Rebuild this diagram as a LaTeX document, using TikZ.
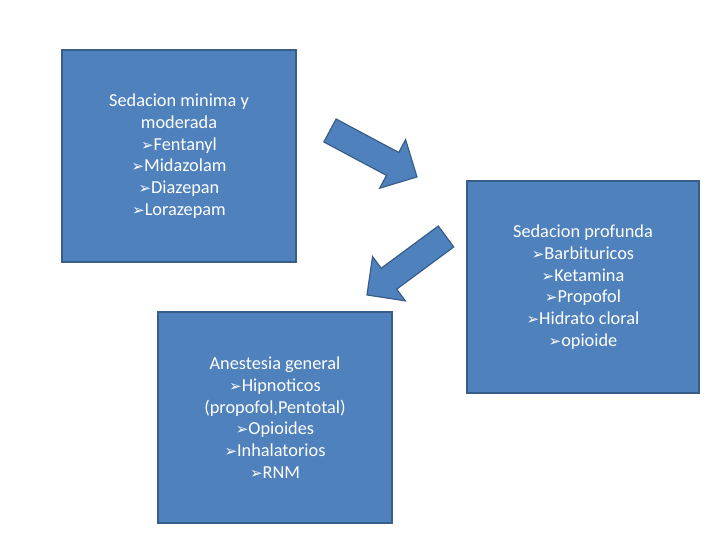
\documentclass[tikz,border=0pt]{standalone}
\usepackage{fontspec}
\setmainfont{Carlito}
\newfontfamily\bulfont{DejaVu Sans}
\definecolor{boxfill}{HTML}{4F81BD}
\definecolor{boxline}{HTML}{385D8A}
\newcommand{\bul}{{\bulfont\fontsize{15}{15}\selectfont ➢}}
\begin{document}
\begin{tikzpicture}[x=1pt,y=1pt,
  box/.style={draw=boxline, line width=1.5pt, fill=boxfill, text=white,
    align=center, inner sep=0pt, font=\fontsize{18.3}{21.7}\selectfont},
  blockarrow/.style={draw=boxline, line width=1.2pt, fill=boxfill, line join=miter}]
\useasboundingbox (0,0) rectangle (728,546);
\fill[white] (0,0) rectangle (728,546);
\node[box, minimum width=234pt, minimum height=212pt] (b1) at (179,390)
  {Sedacion minima y\\moderada\\\bul Fentanyl\\\bul Midazolam\\\bul Diazepan\\\bul Lorazepam};
\node[box, minimum width=232pt, minimum height=212pt] (b2) at (583,259)
  {Sedacion profunda\\\bul Barbituricos\\\bul Ketamina\\\bul Propofol\\\bul Hidrato cloral\\\bul opioide};
\node[box, minimum width=234pt, minimum height=211pt] (b3) at (275,128.5)
  {Anestesia general\\\bul Hipnoticos\\(propofol,Pentotal)\\\bul Opioides\\\bul Inhalatorios\\\bul RNM};
\begin{scope}[shift={(330,415.5)}, rotate=-28.1]
  \draw[blockarrow] (0,13) -- (71,13) -- (71,27.5) -- (98.6,0) -- (71,-27.5) -- (71,-13) -- (0,-13) -- cycle;
\end{scope}
\begin{scope}[shift={(446,309.5)}, rotate=-143.5]
  \draw[blockarrow] (0,13) -- (71,13) -- (71,27.5) -- (98.3,0) -- (71,-27.5) -- (71,-13) -- (0,-13) -- cycle;
\end{scope}
\end{tikzpicture}
\end{document}
